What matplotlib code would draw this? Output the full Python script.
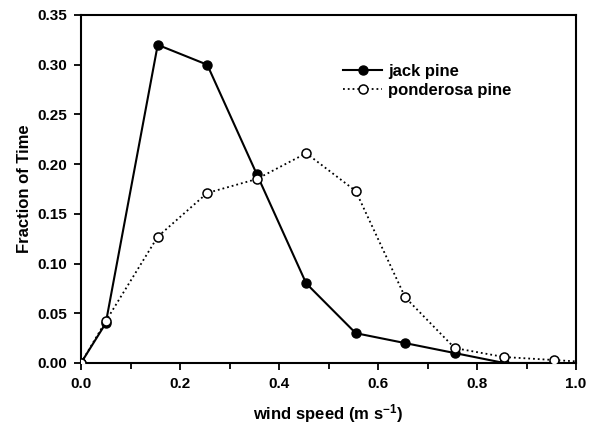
import matplotlib
matplotlib.use("Agg")
import matplotlib.pyplot as plt
from matplotlib.ticker import MultipleLocator, FormatStrFormatter

plt.rcParams['font.family'] = ['Liberation Sans', 'DejaVu Sans']
plt.rcParams['font.weight'] = 'bold'
plt.rcParams['mathtext.fontset'] = 'custom'
plt.rcParams['mathtext.rm'] = 'Liberation Sans:bold'
plt.rcParams['mathtext.bf'] = 'Liberation Sans:bold'
plt.rcParams['mathtext.default'] = 'bf'

# wind speed bins (m/s) and fraction of time
wind_jack = [0.0, 0.05, 0.155, 0.255, 0.355, 0.455, 0.555, 0.655, 0.755, 0.855, 0.955]
frac_jack = [0.0, 0.04, 0.32, 0.30, 0.19, 0.08, 0.03, 0.02, 0.01, 0.0, 0.0]

wind_pond = [0.0, 0.05, 0.155, 0.255, 0.355, 0.455, 0.555, 0.655, 0.755, 0.855, 0.955, 1.055]
frac_pond = [0.0, 0.042, 0.127, 0.171, 0.185, 0.211, 0.173, 0.066, 0.015, 0.006, 0.003, 0.0]

fig = plt.figure(figsize=(5.89, 4.24), dpi=100)
ax = fig.add_axes([81/589, 1 - 363/424, (576-81)/589, (363-15)/424])

ax.plot(wind_jack, frac_jack, 'k-', lw=1.5, marker='o', ms=6.5, mfc='black',
        mec='black', label='jack pine', zorder=3)
ax.plot(wind_pond[:-1], frac_pond[:-1], color='black', ls=':', lw=1.3, marker='o', ms=6.5,
        mfc='white', mec='black', mew=1.1, label='ponderosa pine', zorder=4)
# the dotted line runs on past the last bin
ax.plot(wind_pond[-2:], frac_pond[-2:], color='black', ls=':', lw=1.3, zorder=2)

ax.set_xlim(0, 1.0)
ax.set_ylim(0, 0.35)
ax.xaxis.set_major_locator(MultipleLocator(0.2))
ax.xaxis.set_minor_locator(MultipleLocator(0.1))
ax.yaxis.set_major_locator(MultipleLocator(0.05))
ax.xaxis.set_major_formatter(FormatStrFormatter('%.1f'))
ax.yaxis.set_major_formatter(FormatStrFormatter('%.2f'))
ax.tick_params(which='both', direction='out', width=1.3, labelsize=11, pad=5)
ax.tick_params(which='major', length=5)
ax.tick_params(which='minor', length=4)
for s in ax.spines.values():
    s.set_linewidth(1.5)

ax.set_xlabel('wind speed (m s$^{-1}$)', fontsize=12, fontweight='bold', labelpad=8)
ax.set_ylabel('Fraction of Time', fontsize=12, fontweight='bold', labelpad=4)

leg = ax.legend(loc='upper left', bbox_to_anchor=(0.513, 0.884), frameon=False, borderpad=0,
                fontsize=12, handlelength=2.35, handletextpad=0.35, labelspacing=0.25)
for t in leg.get_texts():
    t.set_fontweight('bold')

fig.savefig('out.png', dpi=100)
